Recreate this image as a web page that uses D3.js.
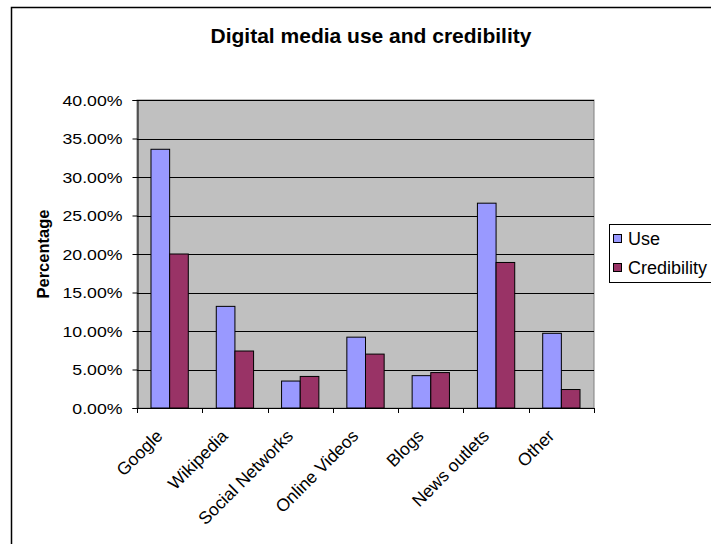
<!DOCTYPE html>
<html><head><meta charset="utf-8">
<script src="https://cdn.jsdelivr.net/npm/d3@7"></script>
<style>body{margin:0;background:#fff}svg{display:block}</style>
</head><body>
<script>
const categories = ["Google","Wikipedia","Social Networks","Online Videos","Blogs","News outlets","Other"];
const seriesNames = ["Use","Credibility"];
const useValues = [0.336,0.132,0.035,0.092,0.042,0.266,0.097];
const credValues = [0.200,0.074,0.041,0.070,0.046,0.189,0.024];
const yTicks = [0,0.05,0.10,0.15,0.20,0.25,0.30,0.35,0.40];
const colors = ["#9999FF","#993366"];

const W=711,H=544;
const FONT="'Liberation Sans', Arial, sans-serif";
const svg=d3.select("body").append("svg").attr("width",W).attr("height",H)
  .style("font-family",FONT);
// chart border
svg.append("rect").attr("x",11.5).attr("y",7.5).attr("width",W+20).attr("height",H+20)
  .attr("fill","#fff").attr("stroke","#000").attr("stroke-width",1.5);

const L=137,R=594,T=100,B=408;
const x=d3.scaleBand().domain(categories).range([L,R]).paddingInner(0.4286).paddingOuter(0.2143);
const xs=d3.scaleBand().domain(seriesNames).range([0,x.bandwidth()]);
const y=d3.scaleLinear().domain([0,0.40]).range([B,T]);

svg.append("rect").attr("x",L).attr("y",T).attr("width",R-L).attr("height",B-T)
  .attr("fill","#C0C0C0").attr("stroke","#808080").attr("stroke-width",1);
svg.append("g").selectAll("line").data(yTicks.filter(d=>d>0)).join("line")
  .attr("x1",L).attr("x2",R).attr("y1",d=>Math.round(y(d))+0.5).attr("y2",d=>Math.round(y(d))+0.5)
  .attr("stroke","#000").attr("stroke-width",1);

const data=categories.map((c,i)=>({c,vals:[useValues[i],credValues[i]]}));
const g=svg.append("g");
data.forEach(d=>{
  d.vals.forEach((v,j)=>{
    g.append("rect").attr("x",x(d.c)+xs(seriesNames[j])).attr("y",y(v))
     .attr("width",xs.bandwidth()).attr("height",B-y(v))
     .attr("fill",colors[j]).attr("stroke","#000").attr("stroke-width",1);
  });
});

// y axis
const ya=svg.append("g").attr("transform",`translate(${L+0.5},0)`)
  .call(d3.axisLeft(y).tickValues(yTicks).tickFormat(d=>(d*100).toFixed(2)+"%").tickSize(5).tickPadding(10));
ya.select(".domain").attr("stroke","#000");
ya.selectAll("line").attr("stroke","#000");
const yl=ya.selectAll("text").attr("font-size",15).attr("fill","#000").style("font-family",FONT)
  .attr("dy","0.36em");
let ref=null;
yl.each(function(){ if(this.textContent==="40.00%") ref=this.getComputedTextLength(); });
const k=60/ref;
yl.each(function(){ const w=this.getComputedTextLength(); d3.select(this).attr("textLength",w*k).attr("lengthAdjust","spacingAndGlyphs"); });

// x axis: ticks at category boundaries
const bounds=categories.map(c=>x(c)-x.step()*x.paddingInner()/2).concat([R]);
const xa=svg.append("g");
xa.append("line").attr("x1",L).attr("x2",R).attr("y1",B+0.5).attr("y2",B+0.5).attr("stroke","#000");
xa.selectAll("line.t").data(bounds).join("line").attr("class","t")
  .attr("x1",d=>Math.round(d)+0.5).attr("x2",d=>Math.round(d)+0.5).attr("y1",B).attr("y2",B+5).attr("stroke","#000");
xa.selectAll("text").data(categories).join("text")
  .attr("transform",c=>`translate(${x(c)+x.bandwidth()/2-6},${B+29}) rotate(-45)`)
  .attr("text-anchor","end").attr("font-size",17.5).text(c=>c);

// title
svg.append("text").attr("x",371).attr("y",43).attr("text-anchor","middle")
  .attr("font-size",21).attr("font-weight","bold").text("Digital media use and credibility");
// y title
svg.append("text").attr("transform",`translate(48.5,${(T+B)/2}) rotate(-90)`).attr("text-anchor","middle")
  .attr("font-size",16.5).attr("font-weight","bold").text("Percentage");

// legend
const lg=svg.append("g");
lg.append("rect").attr("x",609.5).attr("y",224.5).attr("width",120).attr("height",58)
  .attr("fill","#fff").attr("stroke","#000").attr("stroke-width",1);
seriesNames.forEach((s,i)=>{
  lg.append("rect").attr("x",613.5).attr("y",234.5+i*29).attr("width",8).attr("height",8)
    .attr("fill",colors[i]).attr("stroke","#000");
  lg.append("text").attr("x",628).attr("y",244.5+i*29).attr("font-size",18).text(s);
});
</script>
</body></html>
